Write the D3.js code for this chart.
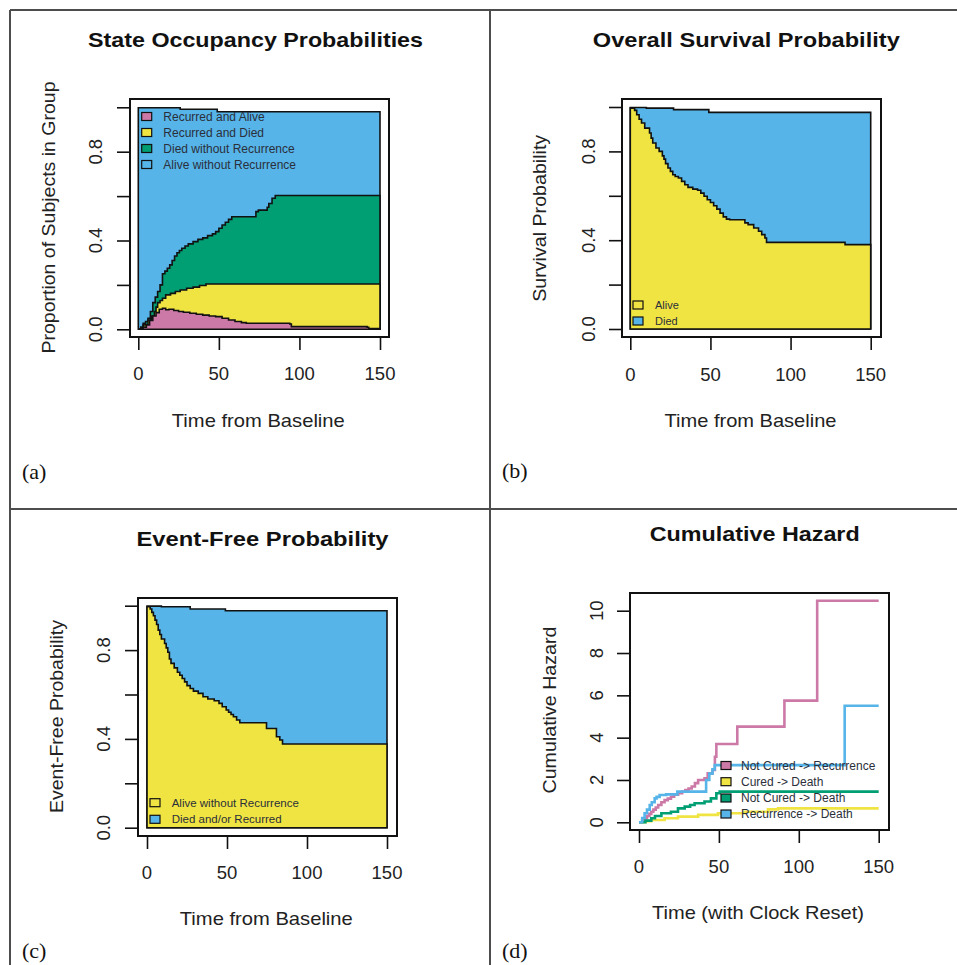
<!DOCTYPE html>
<html>
<head>
<meta charset="utf-8">
<script src="https://cdn.jsdelivr.net/npm/d3@7"></script>
<style>
    body { margin: 0; background: #fff; }
    svg text { font-family: "Liberation Sans", Arial, sans-serif; }
    svg text.tag { font-family: "Liberation Serif", "Times New Roman", serif; }
</style>
</head>
<body>
<div id="chart"></div>
<script>
/* Chart data. Each series is [time, value] steps. */
const timeTicks = [0, 50, 100, 150];
const probTicks = [0, 0.2, 0.4, 0.6, 0.8, 1.0];
const probLabels = [0, 0.4, 0.8];
const hazardTicks = [0, 2, 4, 6, 8, 10];

// (a) stacked state occupancy, cumulative boundaries from the bottom.
const occTop = [[0, 0.998], [26, 0.991], [49, 0.98], [150, 0.98]];
const occDiedNoRec = [[0, 0], [1.5, 0.01], [3, 0.027], [4.5, 0.035], [6, 0.05], [7.5, 0.08], [9, 0.12],
    [10.5, 0.145], [12, 0.17], [13.5, 0.2], [15, 0.25], [16.5, 0.262], [18, 0.275], [19.5, 0.29],
    [21, 0.31], [22.5, 0.33], [24, 0.345], [25.5, 0.355], [27, 0.365], [29, 0.375], [31, 0.385],
    [34, 0.395], [37, 0.405], [40, 0.412], [43, 0.422], [46, 0.43], [48, 0.44], [50, 0.455],
    [52, 0.47], [54, 0.482], [56, 0.495], [58, 0.507], [73, 0.53], [74.5, 0.537], [80, 0.55],
    [81, 0.567], [83, 0.59], [85, 0.603], [150, 0.603]];
const occRecDied = [[0, 0], [3, 0.02], [6, 0.04], [8, 0.06], [10, 0.08], [11, 0.1], [12, 0.12],
    [13.5, 0.13], [15, 0.14], [17, 0.155], [20, 0.162], [23, 0.17], [26, 0.177], [30, 0.185],
    [34, 0.19], [38, 0.197], [42, 0.204], [150, 0.204]];
const occRecAlive = [[0, 0], [3, 0.01], [5, 0.02], [7, 0.04], [9, 0.06], [11, 0.075], [13, 0.09],
    [15, 0.095], [17, 0.088], [19, 0.09], [22, 0.085], [25, 0.08], [28, 0.077], [32, 0.072],
    [36, 0.068], [40, 0.064], [44, 0.06], [48, 0.057], [52, 0.05], [56, 0.042], [60, 0.035],
    [64, 0.03], [67, 0.027], [94, 0.024], [95, 0.012], [142, 0.009], [143, 0.003], [150, 0.003]];
const occNames = ['Recurred and Alive', 'Recurred and Died', 'Died without Recurrence', 'Alive without Recurrence'];

// (b) overall survival.
const survTop = [[0, 0.998], [10, 0.995], [27, 0.988], [49, 0.976], [150, 0.973]];
const survAlive = [[0, 0.995], [2.7, 0.985], [4, 0.965], [5.5, 0.945], [7, 0.928], [9, 0.905],
    [12, 0.883], [13, 0.86], [14, 0.838], [16, 0.815], [18, 0.8], [20, 0.78], [21, 0.765],
    [22, 0.745], [23.5, 0.725], [25, 0.71], [26.5, 0.695], [28, 0.687], [30, 0.68], [32, 0.665],
    [34, 0.65], [36, 0.638], [39, 0.63], [42, 0.625], [44, 0.612], [46, 0.598], [48, 0.582],
    [50, 0.57], [52, 0.555], [54, 0.54], [56, 0.522], [58, 0.505], [60, 0.495], [62, 0.492],
    [71.5, 0.478], [73.5, 0.47], [77, 0.455], [80, 0.44], [82, 0.425], [84, 0.41], [85, 0.39],
    [134, 0.38], [150, 0.377]];
const survNames = ['Alive', 'Died'];

// (c) event-free.
const eventTop = [[0, 0.998], [9, 0.995], [27, 0.985], [49, 0.977], [150, 0.975]];
const eventFree = [[0, 0.995], [2, 0.985], [3, 0.97], [4, 0.955], [5, 0.935], [6, 0.915], [7, 0.89],
    [8, 0.87], [9, 0.85], [11, 0.83], [12, 0.81], [13, 0.79], [14, 0.76], [15, 0.74], [17, 0.72],
    [19, 0.7], [20.5, 0.687], [22, 0.672], [23.5, 0.657], [25, 0.64], [27, 0.627], [29, 0.615],
    [32, 0.605], [35, 0.59], [38, 0.58], [42, 0.572], [45, 0.56], [47, 0.545], [49.5, 0.53],
    [51, 0.52], [52.5, 0.51], [54, 0.5], [56, 0.485], [58, 0.473], [74.7, 0.447], [80.9, 0.41],
    [83, 0.395], [84.7, 0.377], [150, 0.377]];
const eventNames = ['Alive without Recurrence', 'Died and/or Recurred'];

// (d) cumulative hazards.
const hazNotCuredRec = [[0, 0], [2, 0.1], [3.5, 0.19], [5, 0.3], [6.5, 0.4], [7.7, 0.5], [9, 0.6],
    [10.5, 0.7], [12, 0.82], [14, 0.95], [16, 1.05], [18, 1.12], [20, 1.21], [22, 1.3], [24.5, 1.37],
    [27, 1.45], [29, 1.53], [31, 1.6], [33, 1.69], [35, 1.85], [37, 2.0], [41, 2.08], [43, 2.31],
    [46, 2.47], [47.5, 3.1], [48.4, 3.7], [61.5, 4.52], [91, 5.75], [111.5, 10.47], [150, 10.47]];
const hazCuredDeath = [[0, 0], [4, 0.05], [7.7, 0.11], [16, 0.19], [24.4, 0.27], [37, 0.35],
    [49.4, 0.43], [66, 0.5], [80.7, 0.61], [87, 0.66], [150, 0.66]];
const hazNotCuredDeath = [[0, 0], [4, 0.08], [7.7, 0.19], [10, 0.3], [14, 0.43], [20, 0.5],
    [24.4, 0.66], [28.6, 0.74], [32, 0.82], [34.8, 0.9], [41, 0.98], [45, 1.13], [48.4, 1.37],
    [50.5, 1.45], [150, 1.45]];
const hazRecDeath = [[0, 0], [2, 0.2], [3.5, 0.43], [5, 0.6], [6.7, 0.82], [8, 0.95], [9.8, 1.13],
    [11, 1.2], [12.9, 1.29], [17, 1.32], [24, 1.45], [42, 2.0], [44, 2.3], [46, 2.5], [47.4, 2.7],
    [128.7, 5.51], [150, 5.51]];
const hazNames = ['Not Cured -> Recurrence', 'Cured -> Death', 'Not Cured -> Death', 'Recurrence -> Death'];

/* Colours. */
const pink = '#CC79A7', yellow = '#F0E442', green = '#009E73', blue = '#56B4E9';
const ink = '#111';

/* Panel layout (pixel positions). */
const panels = {
    a: {frame: [130, 99, 389, 337], xr: [138.3, 380], yr: [329.3, 107.3], ydom: [0, 1],
        title: ['State Occupancy Probabilities', 255.5, 47, 335],
        xlab: ['Time from Baseline', 258.3, 426.5, 173],
        ylab: ['Proportion of Subjects in Group', 55, 217.5, 272],
        xTickY: 380, yTickX: 101.5, tag: ['(a)', 22, 479]},
    b: {frame: [622, 99, 881, 337], xr: [630.3, 870.7], yr: [329, 107], ydom: [0, 1],
        title: ['Overall Survival Probability', 746.3, 47, 307],
        xlab: ['Time from Baseline', 750.5, 427, 172],
        ylab: ['Survival Probability', 546, 218.3, 167],
        xTickY: 380.7, yTickX: 594.5, tag: ['(b)', 502, 478]},
    c: {frame: [138, 598, 397, 836], xr: [147, 387], yr: [827.7, 605.7], ydom: [0, 1],
        title: ['Event-Free Probability', 262.5, 546, 252],
        xlab: ['Time from Baseline', 266.3, 925, 173],
        ylab: ['Event-Free Probability', 62.5, 716.5, 193],
        xTickY: 879, yTickX: 110, tag: ['(c)', 22, 958]},
    d: {frame: [630, 593, 889, 830], xr: [639, 878.7], yr: [822.3, 610.7], ydom: [0, 10],
        title: ['Cumulative Hazard', 754.7, 540.7, 210],
        xlab: ['Time (with Clock Reset)', 758, 919, 212],
        ylab: ['Cumulative Hazard', 556.3, 710, 167],
        xTickY: 872.7, yTickX: 602.7, tag: ['(d)', 502, 958]}
};

const svg = d3.select('#chart').append('svg')
    .attr('width', 957)
    .attr('height', 965);
svg.append('rect').attr('width', 957).attr('height', 965).attr('fill', '#fff');

// Figure borders between the four panels.
const borders = svg.append('g').attr('stroke', '#4d4d4d').attr('stroke-width', 2);
borders.append('line').attr('x1', 10).attr('y1', 10).attr('x2', 957).attr('y2', 10);
borders.append('line').attr('x1', 10).attr('y1', 10).attr('x2', 10).attr('y2', 965);
borders.append('line').attr('x1', 490).attr('y1', 10).attr('x2', 490).attr('y2', 965);
borders.append('line').attr('x1', 10).attr('y1', 509).attr('x2', 957).attr('y2', 509);

function scales(p) {
    return {
        x: d3.scaleLinear().domain([0, 150]).range(p.xr),
        y: d3.scaleLinear().domain(p.ydom).range(p.yr)
    };
}

// Draw stacked layers back to front, each filled down to zero.
function drawLayers(p, s, layers) {
    const area = d3.area()
        .curve(d3.curveStepAfter)
        .x(d => s.x(d[0]))
        .y0(s.y(0))
        .y1(d => s.y(d[1]));
    svg.append('g').selectAll('path')
        .data(layers)
        .enter()
        .append('path')
        .attr('d', d => area(d.data))
        .attr('fill', d => d.fill)
        .attr('stroke', ink)
        .attr('stroke-width', 1.6)
        .attr('stroke-linejoin', 'miter');
}

function drawFrameAndAxes(p, s, yTicks, yLabels, yFmt) {
    const f = p.frame;
    svg.append('rect')
        .attr('x', f[0]).attr('y', f[1])
        .attr('width', f[2] - f[0]).attr('height', f[3] - f[1])
        .attr('fill', 'none').attr('stroke', ink).attr('stroke-width', 2);

    // Tick marks via d3 axes; frame replaces the domain line.
    const yAxis = svg.append('g')
        .attr('transform', 'translate(' + f[0] + ',0)')
        .attr('color', ink)
        .call(d3.axisLeft(s.y).tickValues(yTicks).tickSize(13).tickFormat(''));
    yAxis.select('.domain').remove();
    yAxis.selectAll('line').attr('stroke-width', 1.6);

    const xAxis = svg.append('g')
        .attr('transform', 'translate(0,' + f[3] + ')')
        .attr('color', ink)
        .call(d3.axisBottom(s.x).tickValues(timeTicks).tickSize(13).tickFormat(''));
    xAxis.select('.domain').remove();
    xAxis.selectAll('line').attr('stroke-width', 1.6);

    // Tick labels, R style: y labels rotated.
    svg.append('g').selectAll('text')
        .data(timeTicks)
        .enter()
        .append('text')
        .attr('x', d => s.x(d))
        .attr('y', p.xTickY)
        .attr('text-anchor', 'middle')
        .attr('font-size', 18.5)
        .attr('fill', '#222')
        .text(d => d);
    svg.append('g').selectAll('text')
        .data(yLabels)
        .enter()
        .append('text')
        .attr('transform', d => 'translate(' + p.yTickX + ',' + s.y(d) + ') rotate(-90)')
        .attr('text-anchor', 'middle')
        .attr('font-size', 18.5)
        .attr('fill', '#222')
        .text(yFmt);
}

function drawTexts(p) {
    svg.append('text')
        .attr('x', p.title[1]).attr('y', p.title[2])
        .attr('text-anchor', 'middle')
        .attr('font-size', 21).attr('font-weight', 'bold').attr('fill', ink)
        .attr('textLength', p.title[3]).attr('lengthAdjust', 'spacingAndGlyphs')
        .text(p.title[0]);
    svg.append('text')
        .attr('x', p.xlab[1]).attr('y', p.xlab[2])
        .attr('text-anchor', 'middle')
        .attr('font-size', 19).attr('fill', '#222')
        .attr('textLength', p.xlab[3]).attr('lengthAdjust', 'spacingAndGlyphs')
        .text(p.xlab[0]);
    svg.append('text')
        .attr('transform', 'translate(' + p.ylab[1] + ',' + p.ylab[2] + ') rotate(-90)')
        .attr('text-anchor', 'middle')
        .attr('font-size', 19).attr('fill', '#222')
        .attr('textLength', p.ylab[3]).attr('lengthAdjust', 'spacingAndGlyphs')
        .text(p.ylab[0]);
    svg.append('text')
        .attr('class', 'tag')
        .attr('x', p.tag[1]).attr('y', p.tag[2])
        .attr('font-size', 22).attr('fill', ink)
        .text(p.tag[0]);
}

function drawLegend(names, fills, boxX, textX, rowYs, size) {
    const g = svg.append('g');
    names.forEach(function (name, i) {
        g.append('rect')
            .attr('x', boxX).attr('y', rowYs[i] - 4)
            .attr('width', 10).attr('height', 8)
            .attr('fill', fills[i]).attr('stroke', ink).attr('stroke-width', 1.2);
        g.append('text')
            .attr('x', textX).attr('y', rowYs[i] + size * 0.36)
            .attr('font-size', size).attr('fill', '#2b2f3a')
            .text(name);
    });
}

/* Panel (a). */
let p = panels.a;
let s = scales(p);
drawLayers(p, s, [
    {data: occTop, fill: blue},
    {data: occDiedNoRec, fill: green},
    {data: occRecDied, fill: yellow},
    {data: occRecAlive, fill: pink}
]);
drawFrameAndAxes(p, s, probTicks, probLabels, d3.format('.1f'));
drawTexts(p);
drawLegend(occNames, [pink, yellow, green, blue], 141.7, 163.3, [116.5, 132.5, 148.5, 164.5], 12);

/* Panel (b). */
p = panels.b;
s = scales(p);
drawLayers(p, s, [
    {data: survTop, fill: blue},
    {data: survAlive, fill: yellow}
]);
drawFrameAndAxes(p, s, probTicks, probLabels, d3.format('.1f'));
drawTexts(p);
drawLegend(survNames, [yellow, blue], 633, 655, [305, 321], 11);

/* Panel (c). */
p = panels.c;
s = scales(p);
drawLayers(p, s, [
    {data: eventTop, fill: blue},
    {data: eventFree, fill: yellow}
]);
drawFrameAndAxes(p, s, probTicks, probLabels, d3.format('.1f'));
drawTexts(p);
drawLegend(eventNames, [yellow, blue], 150, 171.7, [802.7, 819.3], 11.5);

/* Panel (d). */
p = panels.d;
s = scales(p);
const hazLine = d3.line()
    .curve(d3.curveStepAfter)
    .x(d => s.x(d[0]))
    .y(d => s.y(d[1]));
svg.append('g').selectAll('path')
    .data([
        {data: hazNotCuredRec, col: pink},
        {data: hazCuredDeath, col: yellow},
        {data: hazNotCuredDeath, col: green},
        {data: hazRecDeath, col: blue}
    ])
    .enter()
    .append('path')
    .attr('d', d => hazLine(d.data))
    .attr('fill', 'none')
    .attr('stroke', d => d.col)
    .attr('stroke-width', 2.6);
drawFrameAndAxes(p, s, hazardTicks, hazardTicks, d => d);
drawTexts(p);
drawLegend(hazNames, [pink, yellow, green, blue], 721, 741, [765.5, 781.7, 798, 814], 12);
</script>
</body>
</html>
